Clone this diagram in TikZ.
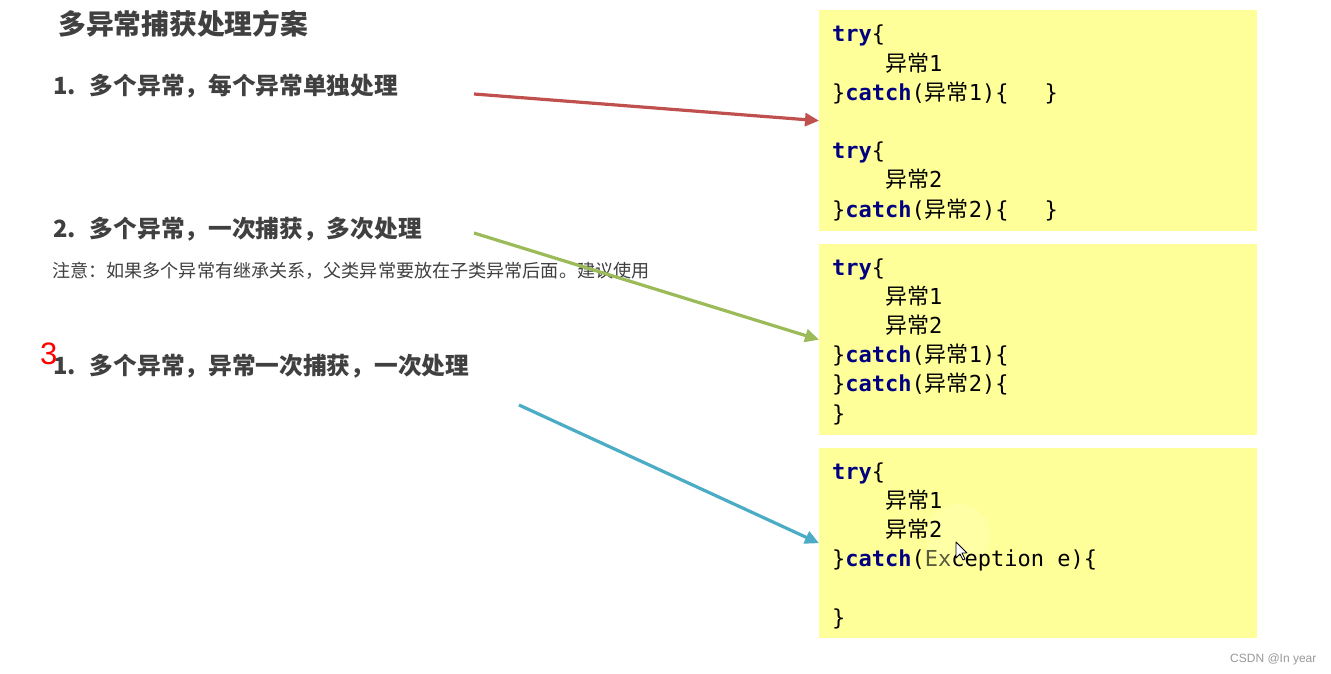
\documentclass[tikz,border=0pt]{standalone}
\usepackage{fontspec}
\usetikzlibrary{arrows.meta}
\newfontfamily\cjk{Noto Sans CJK SC}
\newfontfamily\codefont{DejaVu Sans Mono}
\newfontfamily\wmfont{Liberation Sans}
\newcommand\yc[1]{{\cjk #1}}
\definecolor{boxyellow}{RGB}{255,255,153}
\definecolor{kwblue}{RGB}{0,0,128}
\definecolor{txtgray}{RGB}{64,64,64}
\definecolor{arrred}{RGB}{192,80,77}
\definecolor{arrgreen}{RGB}{155,187,89}
\definecolor{arrblue}{RGB}{75,172,198}
\definecolor{exgray}{RGB}{90,90,60}
\tikzset{
  codebox/.style={fill=boxyellow, draw=none, minimum width=438pt, inner sep=0pt, anchor=north west},
  codetext/.style={font=\codefont\fontsize{22}{26}\selectfont, anchor=base west, inner sep=0pt, text=black},
  heading/.style={font=\cjk\bfseries\fontsize{27.8}{30}\selectfont, anchor=base west, inner sep=0pt, text=txtgray},
  itemtext/.style={font=\cjk\bfseries\fontsize{23.7}{26}\selectfont, anchor=base west, inner sep=0pt, text=txtgray},
  notetext/.style={font=\cjk\fontsize{18.1}{20}\selectfont, anchor=base west, inner sep=0pt, text=txtgray},
  pointer/.style={line width=3.2pt, -{Triangle[length=14pt,width=13pt]}},
}
\newcommand\kw[1]{\textcolor{kwblue}{\bfseries #1}}
\begin{document}
\begin{tikzpicture}[x=1pt,y=-1pt]
\useasboundingbox (0,0) rectangle (1331,674);
\fill[white] (0,0) rectangle (1331,674);
% left texts
\node[heading] (title) at (58,35) {多异常捕获处理方案};
\node[itemtext] (item1) at (53,95) {1.\hspace{14pt}多个异常，每个异常单独处理};
\node[itemtext] (item2) at (53,237) {2.\hspace{14pt}多个异常，一次捕获，多次处理};
\node[notetext] (note) at (52,277) {注意：如果多个异常有继承关系，父类异常要放在子类异常后面。建议使用};
\node[itemtext] (item3) at (53,374) {1.\hspace{14pt}多个异常，异常一次捕获，一次处理};
\node[font=\wmfont\fontsize{31}{34}\selectfont, text=red, anchor=base west, inner sep=0pt] (three) at (40,364) {3};
% boxes
\node[codebox, minimum height=221pt] (box1) at (819,10) {};
\node[codebox, minimum height=191pt] (box2) at (819,244) {};
\node[codebox, minimum height=190pt] (box3) at (819,448) {};
% box1 code
\node[codetext] (b1a) at (832,42) {\kw{try}\{};
\node[codetext] (b1b) at (885,71.2) {\yc{异常}1};
\node[codetext] (b1c) at (832,100.4) {\}\kw{catch}(\yc{异常}1)\{\hspace{36pt}\}};
\node[codetext] (b1d) at (832,158.8) {\kw{try}\{};
\node[codetext] (b1e) at (885,188) {\yc{异常}2};
\node[codetext] (b1f) at (832,217.2) {\}\kw{catch}(\yc{异常}2)\{\hspace{36pt}\}};
% box2 code
\node[codetext] (b2a) at (832,275) {\kw{try}\{};
\node[codetext] (b2b) at (885,304.2) {\yc{异常}1};
\node[codetext] (b2c) at (885,333.4) {\yc{异常}2};
\node[codetext] (b2d) at (832,362.6) {\}\kw{catch}(\yc{异常}1)\{};
\node[codetext] (b2e) at (832,391.8) {\}\kw{catch}(\yc{异常}2)\{};
\node[codetext] (b2f) at (832,421) {\}};
% box3 code
\fill[white, opacity=0.12] (958,536) circle (32pt);
\node[codetext] (b3a) at (832,479) {\kw{try}\{};
\node[codetext] (b3b) at (885,508.2) {\yc{异常}1};
\node[codetext] (b3c) at (885,537.4) {\yc{异常}2};
\node[codetext] (b3d) at (832,566.6) {\}\kw{catch}(\textcolor{exgray}{Ex}ception e)\{};
\node[codetext] (b3f) at (832,625) {\}};
% mouse cursor
\filldraw[fill=white, draw=black, line width=0.8pt, line join=round]
  (956,542) -- ++(0,16) -- ++(4,-4) -- ++(3,6) -- ++(2,-1) -- ++(-3,-6) -- ++(5,0) -- cycle;
% arrows
\coordinate (s1) at (474,94);
\coordinate (s2) at (474,233);
\coordinate (s3) at (519,405);
\draw[pointer, arrred] (s1) -- (box1.west);
\draw[pointer, arrgreen] (s2) -- (box2.west);
\draw[pointer, arrblue] (s3) -- (box3.west);
% watermark
\node[font=\wmfont\fontsize{12}{14}\selectfont, text=gray!80, anchor=base west, inner sep=0pt] (wm) at (1230,662) {CSDN @In year};
\end{tikzpicture}
\end{document}
